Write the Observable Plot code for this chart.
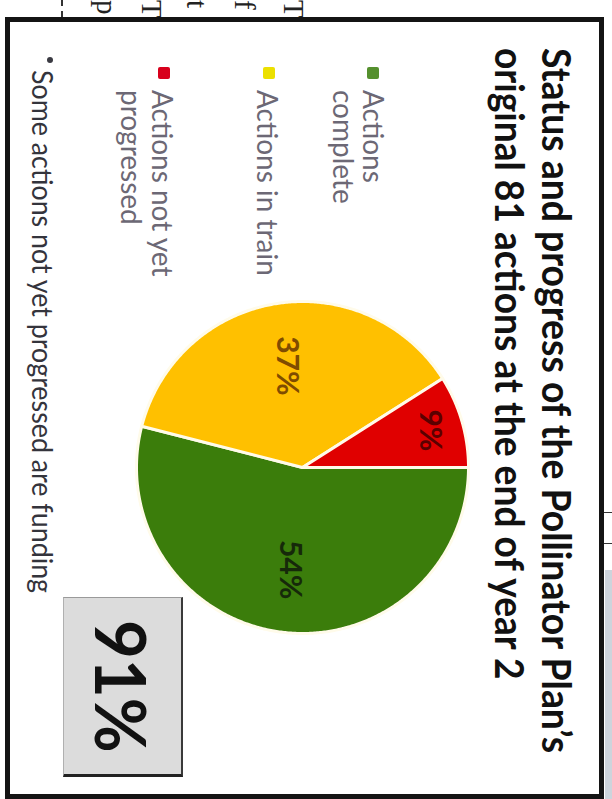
<!DOCTYPE html>
<html>
<head>
<meta charset="utf-8">
<script src="https://cdn.jsdelivr.net/npm/d3@7"></script>
<script src="https://cdn.jsdelivr.net/npm/@observablehq/plot@0.6"></script>
<style>
  html, body { margin: 0; padding: 0; background: #fff; }
  body { width: 612px; height: 799px; position: relative; overflow: hidden; font-family: Lato, "Open Sans", sans-serif; }
  .layer { position: absolute; left: 0; top: 0; width: 782px; height: 599px; transform-origin: 0 0; transform: translate(604px, 17px) rotate(90deg); }
  #slide { background: #fff; }
  .abs { position: absolute; white-space: nowrap; line-height: 1; }
  #frame { position: absolute; left: 0; top: 0; width: 782px; height: 599px; box-sizing: border-box; border: 5px solid #141414; }
  .title { font-weight: 700; font-size: 40px; color: #111; transform-origin: 0 0; }
  .leg { font-size: 28px; color: #6c6875; }
  .sq { position: absolute; width: 12px; height: 12px; border-radius: 2px; }
  .bgl { position: absolute; font-family: "Liberation Serif", serif; font-size: 29px; color: #222; line-height: 1; }
</style>
</head>
<body>
<script>
// ---------- data ----------
const categories = ["Actions complete", "Actions in train", "Actions not yet progressed"];
const shares = [54, 37, 9];                 // percent of the original 81 actions
const shareLabels = ["54%", "37%", "9%"];
const headline = "91%";
const titleLines = ["Status and progress of the Pollinator Plan’s", "original 81 actions at the end of year 2"];
const legendLines = [["Actions", "complete"], ["Actions in train"], ["Actions not yet", "progressed"]];
const footnote = "Some actions not yet progressed are funding";

// ---------- styles ----------
const sliceColors = ["#3b7d0b", "#ffc000", "#e00000"];
const labelColors = ["#16290a", "#7f4c00", "#5a0000"];
const bulletColors = ["#55902e", "#ece000", "#d8001c"];

// background letters (edge of page behind the slide)
const bg = document.createElement("div");
bg.className = "layer";
document.body.appendChild(bg);
[["T", 322], ["f", 371], ["t", 419], ["T", 464], ["p", 509]].forEach(([ch, base]) => {
  const s = document.createElement("div");
  s.className = "bgl";
  s.textContent = ch;
  s.style.left = "-17px";
  s.style.top = (base - 0.891 * 29) + "px";
  bg.appendChild(s);
});

// decorations outside the frame
function deco(css) { const d = document.createElement("div"); d.style.cssText = "position:absolute;" + css; document.body.appendChild(d); }
deco("left:605px;top:570px;width:7px;height:229px;background:#cdd4dc;");
deco("left:604px;top:512px;width:8px;height:1px;background:#333;");
deco("left:604px;top:543px;width:8px;height:1px;background:#333;");
deco("left:61px;top:0px;width:0;height:17px;border-left:2px dashed #333;");

// slide
const slide = document.createElement("div");
slide.id = "slide";
slide.className = "layer";
document.body.appendChild(slide);

function text(parent, str, cls, left, baseline, size) {
  const d = document.createElement("div");
  d.className = "abs " + cls;
  d.textContent = str;
  d.style.left = left + "px";
  d.style.top = (baseline - 0.887 * size) + "px";
  parent.appendChild(d);
  return d;
}
function fit(el, w) {
  const nat = el.offsetWidth;
  el.style.transformOrigin = "0 0";
  el.style.transform = `scaleX(${w / nat})`;
}

// title
const t1 = text(slide, titleLines[0], "title", 31, 62, 40);
const t2 = text(slide, titleLines[1], "title", 31, 109, 40);
fit(t1, 705); fit(t2, 632);

// legend
const legBase = [[241, 271], [347], [452, 483]];
const sqTop = [225, 329, 434];
legendLines.forEach((lines, i) => {
  const sq = document.createElement("div");
  sq.className = "sq";
  sq.style.left = "50px";
  sq.style.top = sqTop[i] + "px";
  sq.style.background = bulletColors[i];
  slide.appendChild(sq);
  lines.forEach((ln, j) => text(slide, ln, "leg", 73, legBase[i][j], 28));
});

// footnote
const dot = document.createElement("div");
dot.style.cssText = "position:absolute;left:40px;top:551px;width:6px;height:6px;border-radius:50%;background:#3a3a42;";
slide.appendChild(dot);
const fn = text(slide, footnote, "", 53, 572, 28);
fn.style.fontSize = "28px"; fn.style.color = "#34343c";
fit(fn, 523);

// 91% box
const box = document.createElement("div");
box.style.cssText = "position:absolute;left:580px;top:421px;width:180px;height:120px;box-sizing:border-box;background:#dcdcdc;border-top:2px solid #3a3a3a;border-right:3px solid #222;border-left:1px solid #9a9a9a;border-bottom:1px solid #b0b0b0;";
slide.appendChild(box);
const big = text(slide, headline, "", 0, 509, 70);
big.style.fontSize = "70px"; big.style.fontWeight = "700"; big.style.color = "#111";
big.style.left = (669 - 133 / 2) + "px";
fit(big, 133);

// ---------- pie ----------
const rows = categories.map((name, i) => ({name, value: shares[i], label: shareLabels[i], i}));
const arcs = d3.pie().sort(null).value(d => d.value)(rows);
const poly = [];
arcs.forEach(a => {
  const n = Math.max(2, Math.ceil((a.endAngle - a.startAngle) / (Math.PI / 360)));
  poly.push({name: a.data.name, i: a.data.i, x: 0, y: 0});
  for (let k = 0; k <= n; k++) {
    const t = a.startAngle + (a.endAngle - a.startAngle) * k / n;
    poly.push({name: a.data.name, i: a.data.i, x: Math.sin(t), y: Math.cos(t)});
  }
  poly.push({name: a.data.name, i: a.data.i, x: 0, y: 0});
});
const labels = arcs.map(a => {
  const m = (a.startAngle + a.endAngle) / 2;
  const r = a.data.value < 15 ? 0.8 : 0.62;
  return {label: a.data.label, i: a.data.i, x: r * Math.sin(m), y: r * Math.cos(m)};
});

const D = 180 / 166;
const pie = Plot.plot({
  width: 360, height: 360, margin: 0,
  x: {domain: [-D, D], axis: null},
  y: {domain: [-D, D], axis: null},
  style: {background: "transparent", fontFamily: "Lato, sans-serif"},
  marks: [
    Plot.line(poly, {x: "x", y: "y", z: "name", fill: d => sliceColors[d.i], stroke: "#fffbea", strokeWidth: 3, strokeLinejoin: "round", curve: "linear"}),
    Plot.text(labels, {x: "x", y: "y", text: "label", fill: d => labelColors[d.i], fontSize: 30, fontWeight: 700})
  ]
});
pie.style.position = "absolute";
pie.style.left = "270px";
pie.style.top = "121px";
slide.appendChild(pie);

// frame on top
const frame = document.createElement("div");
frame.id = "frame";
slide.appendChild(frame);
</script>
</body>
</html>
